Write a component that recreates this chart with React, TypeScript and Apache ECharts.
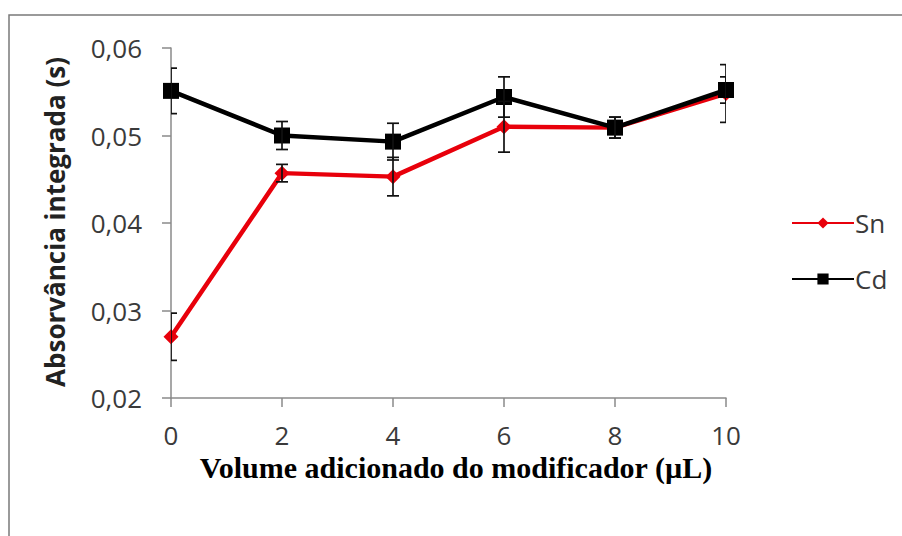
import React, { useEffect, useRef } from "react";
import * as echarts from "echarts";

const volumes = [0, 2, 4, 6, 8, 10];
const snValues = [0.027, 0.0457, 0.0453, 0.051, 0.0509, 0.0548];
const snErrors = [0.0027, 0.001, 0.0022, 0.0029, 0.0012, 0.0033];
const cdValues = [0.0551, 0.05, 0.0493, 0.0544, 0.0509, 0.0552];
const cdErrors = [0.0026, 0.0016, 0.0021, 0.0023, 0.0012, 0.0015];
const xTicks = [0, 2, 4, 6, 8, 10];
const yTicks = [0.02, 0.03, 0.04, 0.05, 0.06];

const tickFont = "'Open Sans', sans-serif";

function errorSeries(name: string, values: number[], errors: number[]) {
  const data = volumes.map((x, i) => [x, values[i] - errors[i], values[i] + errors[i]]);
  return {
    name,
    type: "custom",
    z: 5,
    clip: true,
    renderItem: (params: any, api: any) => {
      const x = api.value(0);
      const lo = api.coord([x, api.value(1)]);
      const hi = api.coord([x, api.value(2)]);
      const cs = params.coordSys;
      const half = 6;
      // caps are cut at the plot edges
      const left = Math.max(lo[0] - half, cs.x);
      const right = Math.min(lo[0] + half, cs.x + cs.width);
      const style = { stroke: "#111", lineWidth: 1.7 };
      return {
        type: "group",
        children: [
          { type: "line", shape: { x1: lo[0], y1: lo[1], x2: hi[0], y2: hi[1] }, style },
          { type: "line", shape: { x1: left, y1: lo[1], x2: right, y2: lo[1] }, style },
          { type: "line", shape: { x1: left, y1: hi[1], x2: right, y2: hi[1] }, style },
        ],
      };
    },
    data,
    silent: true,
  };
}

export default function App() {
  const ref = useRef<HTMLDivElement>(null);

  useEffect(() => {
    if (!ref.current) return;
    const chart = echarts.init(ref.current, null, { renderer: "svg" });
    const axisGray = "#8a8a8a";
    chart.setOption({
      animation: false,
      backgroundColor: "#ffffff",
      grid: { left: 171, right: 176, top: 48, bottom: 138, containLabel: false },
      xAxis: {
        type: "value",
        min: xTicks[0],
        max: xTicks[xTicks.length - 1],
        interval: 2,
        axisLine: { show: true, onZero: false, lineStyle: { color: axisGray, width: 1.5 } },
        axisTick: { show: true, inside: false, length: 9, lineStyle: { color: axisGray, width: 1.5 } },
        axisLabel: { color: "#3a3a3a", fontFamily: tickFont, fontSize: 26, margin: 24 },
        splitLine: { show: false },
      },
      yAxis: {
        type: "value",
        min: yTicks[0],
        max: yTicks[yTicks.length - 1],
        interval: 0.01,
        axisLine: { show: true, lineStyle: { color: axisGray, width: 1.5 } },
        axisTick: { show: true, inside: false, length: 9, lineStyle: { color: axisGray, width: 1.5 } },
        axisLabel: {
          color: "#3a3a3a",
          fontFamily: tickFont,
          fontSize: 26,
          margin: 29,
          formatter: (v: number) => v.toFixed(2).replace(".", ","),
        },
        splitLine: { show: false },
      },
      legend: {
        orient: "vertical",
        left: 786,
        top: 205,
        itemWidth: 62,
        itemHeight: 14,
        itemGap: 30,
        textStyle: { color: "#3a3a3a", fontFamily: tickFont, fontSize: 26, padding: [0, 0, 0, -4] },
        data: ["Sn", "Cd"],
      },
      graphic: [
        {
          type: "rect",
          shape: { x: 9, y: 15, width: 1000, height: 600 },
          style: { fill: "none", stroke: "#7a7a7a", lineWidth: 1.5 },
          silent: true,
        },
        {
          type: "text",
          x: 55,
          y: 222,
          rotation: Math.PI / 2,
          style: {
            text: "Absorvância integrada (s)",
            fill: "#222",
            font: "bold 26px 'Open Sans', sans-serif",
            align: "center",
            verticalAlign: "middle",
          },
        },
        {
          type: "text",
          x: 456,
          y: 467,
          style: {
            text: "Volume adicionado do modificador (µL)",
            fill: "#000",
            font: "bold 30px 'Liberation Serif', 'Times New Roman', serif",
            align: "center",
            verticalAlign: "middle",
          },
        },
      ],
      series: [
        {
          name: "Sn",
          type: "line",
          z: 3,
          data: volumes.map((x, i) => [x, snValues[i]]),
          symbol: "diamond",
          symbolSize: 15,
          lineStyle: { color: "#e8000b", width: 4.5 },
          itemStyle: { color: "#e8000b" },
        },
        {
          name: "Cd",
          type: "line",
          z: 4,
          data: volumes.map((x, i) => [x, cdValues[i]]),
          symbol: "rect",
          symbolSize: 16,
          lineStyle: { color: "#000", width: 4.5 },
          itemStyle: { color: "#000" },
        },
        errorSeries("SnErr", snValues, snErrors),
        errorSeries("CdErr", cdValues, cdErrors),
      ],
    });
    return () => chart.dispose();
  }, []);

  return (
    <div
      ref={ref}
      style={{ position: "fixed", left: 0, top: 0, width: 902, height: 536, background: "#fff" }}
    />
  );
}
